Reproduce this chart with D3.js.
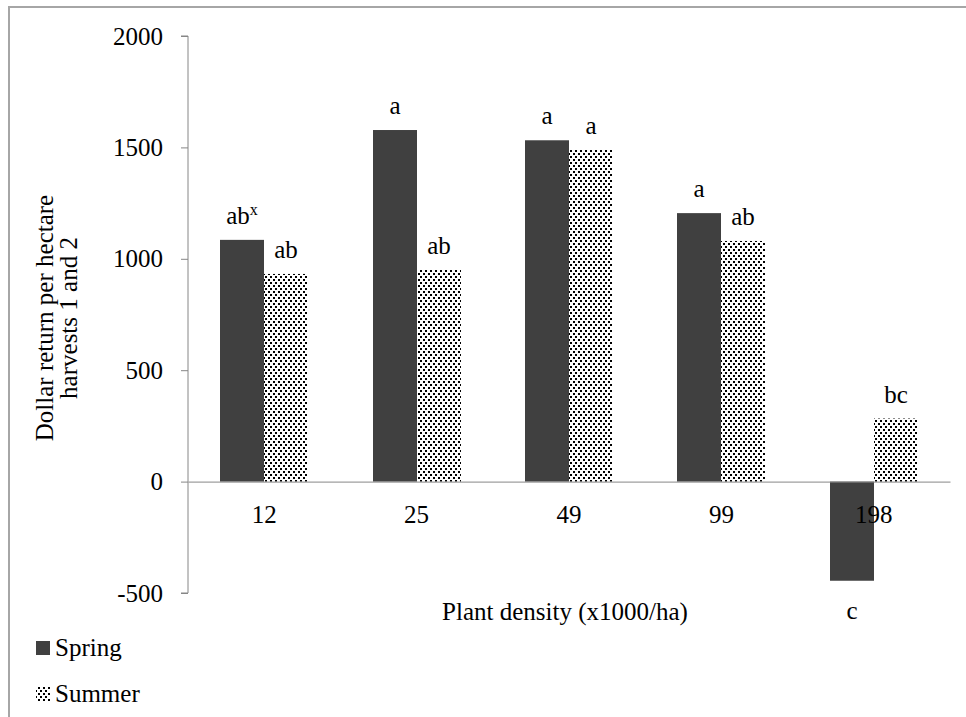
<!DOCTYPE html>
<html>
<head>
<meta charset="utf-8">
<script src="https://cdn.jsdelivr.net/npm/d3@7.9.0/dist/d3.min.js"></script>
<style>
  body { margin: 0; background: #fff; }
  svg { display: block; font-family: "Liberation Serif", "Times New Roman", serif; }
</style>
</head>
<body>
<svg id="chart" width="966" height="717"></svg>
<script>
const categories = ['12', '25', '49', '99', '198'];
const seriesNames = ['Spring', 'Summer'];
const spring = [1085, 1578, 1532, 1205, -445];
const summer = [932, 950, 1490, 1080, 283];
const springLetters = ['ab', 'a', 'a', 'a', 'c'];
const summerLetters = ['ab', 'ab', 'a', 'ab', 'bc'];
const yTicks = [-500, 0, 500, 1000, 1500, 2000];

const svg = d3.select('#chart');
const axisColor = '#868686';
const fontSize = 25;

// outer frame
svg.append('path')
  .attr('d', 'M9,717 V7 H966')
  .attr('fill', 'none')
  .attr('stroke', '#a6a6a6')
  .attr('stroke-width', 2);

// dotted fill for summer
const pat = svg.append('defs').append('pattern')
  .attr('id', 'dots')
  .attr('patternUnits', 'userSpaceOnUse')
  .attr('width', 5).attr('height', 6);
pat.append('rect').attr('width', 5).attr('height', 6).attr('fill', '#fff');
pat.append('rect').attr('x', 0).attr('y', 0).attr('width', 2).attr('height', 2).attr('fill', '#000');
pat.append('rect').attr('x', 3).attr('y', 3).attr('width', 2).attr('height', 2).attr('fill', '#000');

const x0 = 188, x1 = 950;
const y = d3.scaleLinear().domain([-500, 2000]).range([593, 36]);
const x = d3.scaleBand().domain(categories).range([x0, x1]);
const inner = d3.scaleBand().domain(seriesNames).range([0, x.bandwidth()]).paddingOuter(0.73);

const fills = { Spring: '#404040', Summer: 'url(#dots)' };
const values = { Spring: spring, Summer: summer };
const letters = { Spring: springLetters, Summer: summerLetters };

seriesNames.forEach((s) => {
  categories.forEach((c, i) => {
    const v = values[s][i];
    const bx = Math.round(x(c) + inner(s));
    svg.append('rect')
      .attr('x', bx)
      .attr('width', Math.round(inner.bandwidth()))
      .attr('y', Math.min(y(v), y(0)))
      .attr('height', Math.abs(y(v) - y(0)))
      .attr('fill', fills[s]);

    const t = svg.append('text')
      .attr('x', bx + inner.bandwidth() / 2)
      .attr('y', v >= 0 ? y(v) - 16 : y(v) + 38)
      .attr('text-anchor', 'middle')
      .attr('font-size', fontSize)
      .text(letters[s][i]);
    if (s === 'Spring' && i === 0) {
      t.append('tspan').attr('dy', -9).attr('font-size', 16).text('x');
    }
  });
});

// y axis
const yAxis = d3.axisLeft(y).tickValues(yTicks).tickSize(7).tickPadding(18).tickFormat((d) => String(d));
const gy = svg.append('g').attr('transform', `translate(${x0},0)`).call(yAxis);
gy.select('.domain').attr('stroke', axisColor).attr('d', `M-7,${y(-500)}H0V${y(2000)}H-7`);
gy.selectAll('.tick line').attr('stroke', axisColor);
gy.selectAll('.tick text').attr('font-size', fontSize).attr('fill', '#000')
  .attr('font-family', '"Liberation Serif", serif');

// x axis at zero
const xAxis = d3.axisBottom(x).tickSize(0).tickPadding(24);
const gx = svg.append('g').attr('transform', `translate(0,${y(0)})`).call(xAxis);
gx.select('.domain').attr('stroke', axisColor);
gx.selectAll('.tick text').attr('font-size', fontSize).attr('fill', '#000')
  .attr('font-family', '"Liberation Serif", serif');

// titles
svg.append('text')
  .attr('x', 565).attr('y', 620)
  .attr('text-anchor', 'middle').attr('font-size', fontSize)
  .text('Plant density (x1000/ha)');

const yt = svg.append('text')
  .attr('transform', 'translate(0,318) rotate(-90)')
  .attr('text-anchor', 'middle').attr('font-size', fontSize);
yt.append('tspan').attr('x', 0).attr('y', 53).text('Dollar return per hectare');
yt.append('tspan').attr('x', 0).attr('y', 77).text('harvests 1 and 2');

// legend
const leg = svg.append('g');
seriesNames.forEach((s, i) => {
  const ly = 641 + i * 46;
  leg.append('rect')
    .attr('x', 36).attr('y', ly).attr('width', 14).attr('height', 14)
    .attr('fill', fills[s]);
  leg.append('text')
    .attr('x', 55).attr('y', ly + 15).attr('font-size', fontSize)
    .text(s);
});
</script>
</body>
</html>
